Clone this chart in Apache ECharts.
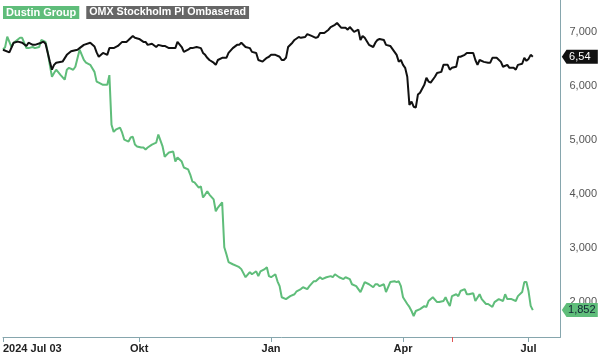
<!DOCTYPE html>
<html>
<head>
<meta charset="utf-8">
<script src="https://cdn.jsdelivr.net/npm/echarts@6/dist/echarts.min.js"></script>
<style>html,body{margin:0;padding:0;background:#fff}#c{width:600px;height:354px}</style>
</head>
<body>
<div id="c"></div>
<script>
// ---- data ----
var startDate = '2024-07-03';
var endDate = '2025-07-22';
var holidays = ['2024-12-24','2024-12-25','2024-12-26','2024-12-31','2025-01-01','2025-01-06','2025-04-18','2025-04-21','2025-05-01','2025-05-29','2025-06-06','2025-06-20'];
var tickDates = ['2024-07-03','2024-10-01','2025-01-02','2025-04-01','2025-07-01'];
var tickLabels = ['2024 Jul 03','Okt','Jan','Apr','Jul'];
var markerDate = '2025-05-07';
var seriesNames = ['Dustin Group','OMX Stockholm PI Ombaserad'];
var endLabels = ['1,852','6,54'];

// OMX Stockholm PI (rebased) — trading-day index from start, value
var omxIdx = [0,3,5,7,9,11,12,14,15,18,19,20,22,23,24,25,28,30,32,35,36,38,41,43,44,45,47,49,50,52,54,56,58,59,61,62,64,66,67,68,70,72,73,75,76,78,80,81,82,84,85,87,88,89,91,93,94,95,96,97,99,100,101,103,105,106,108,110,111,112,114,116,117,119,120,122,124,125,126,128,130,131,132,133,134,136,137,139,140,142,143,145,147,148,149,151,153,154,156,157,159,161,162,163,165,167,168,169,170,172,174,175,176,177,179,180,182,184,185,186,187,188,189,190,191,192,193,194,195,196,198,199,200,201,203,204,206,207,209,210,211,213,214,215,217,218,220,221,222,223,224,226,228,229,230,232,234,235,237,238,240,241,242,244,245,246,247,248,249];
var omxVal = [6670,6620,6800,6820,6800,6740,6800,6760,6760,6800,6820,6780,6450,6300,6390,6430,6450,6575,6640,6670,6700,6760,6800,6730,6620,6540,6610,6575,6700,6700,6740,6815,6815,6850,6925,6890,6870,6815,6815,6760,6780,6720,6760,6740,6740,6700,6700,6700,6815,6720,6630,6670,6700,6700,6720,6700,6610,6575,6520,6480,6430,6390,6480,6520,6520,6610,6700,6760,6760,6800,6720,6700,6630,6610,6480,6450,6520,6540,6575,6575,6540,6480,6480,6520,6720,6800,6850,6905,6890,6905,6960,6925,6890,6905,6980,6980,7040,7090,7130,7165,7075,7075,7040,7090,7000,7040,6850,6925,6890,6760,6720,6800,6850,6870,6850,6760,6740,6630,6575,6450,6480,6390,6335,6170,5650,5710,5615,5600,5840,5875,6020,6150,6080,6060,6170,6240,6260,6390,6390,6300,6335,6355,6540,6540,6575,6610,6610,6610,6480,6390,6480,6445,6430,6430,6520,6520,6445,6355,6390,6335,6335,6300,6390,6410,6520,6465,6500,6575,6540];

// Dustin Group — trading-day index from start, value
var dustinIdx = [0,1,2,3,4,5,8,9,11,12,14,15,17,18,20,21,22,23,24,25,27,29,30,31,33,34,36,38,39,41,43,44,45,47,49,50,51,52,53,55,56,57,59,60,61,62,63,65,66,67,68,70,72,73,75,76,78,80,81,82,84,85,87,88,89,90,92,93,94,95,96,97,99,100,101,103,104,105,106,108,110,111,112,114,116,117,119,120,121,123,124,125,126,128,129,130,131,133,135,137,138,140,141,143,144,146,147,149,150,152,154,155,156,158,160,161,163,164,166,168,169,170,172,174,175,176,177,179,180,182,184,185,186,187,188,190,191,192,193,194,196,198,199,200,202,204,205,207,208,209,210,211,213,214,215,217,218,219,221,222,224,225,227,228,230,231,233,235,236,237,239,241,242,244,245,246,247,248,249];
var dustinVal = [6670,6720,6910,6815,6720,6800,6890,6890,6700,6700,6720,6700,6720,6850,6815,6630,6390,6170,6240,6300,6205,6115,6300,6335,6300,6355,6670,6480,6430,6390,6260,6080,6060,6020,6020,6200,5280,5150,5190,5230,5135,5005,4970,5045,5060,4915,4880,4860,4860,4825,4860,4915,4950,5100,4880,4690,4770,4785,4600,4675,4600,4490,4455,4360,4230,4215,4120,4140,3935,3990,4050,3990,3900,3680,3750,3845,3015,2885,2740,2700,2665,2645,2610,2460,2555,2515,2570,2480,2570,2610,2645,2480,2460,2515,2385,2295,2090,2055,2110,2145,2200,2240,2275,2240,2295,2385,2385,2460,2425,2460,2480,2460,2515,2460,2425,2460,2425,2330,2295,2185,2275,2370,2330,2275,2330,2330,2295,2330,2185,2370,2385,2370,2385,2295,2090,1965,1910,1835,1740,1835,1870,1925,1910,2020,2090,2000,2000,2020,2090,2000,1925,2110,2145,2110,2205,2240,2145,2145,2165,2020,2145,2055,1965,1965,1910,2000,2055,2020,2145,2055,2055,2020,2110,2185,2370,2370,2200,1930,1852];

// ---- trading-day categories ----
function buildDays(){
  var out=[]; var d=new Date(startDate+'T12:00:00Z'); var e=new Date(endDate+'T12:00:00Z');
  while(d<=e){
    var wd=d.getUTCDay(); var s=d.toISOString().slice(0,10);
    if(wd!==0&&wd!==6&&holidays.indexOf(s)<0) out.push(s);
    d=new Date(d.getTime()+86400000);
  }
  return out;
}
var days = buildDays();
var tickIdx = tickDates.map(function(t){return days.indexOf(t);});
var markerIdx = days.indexOf(markerDate);

var green = '#5fbd7a';
var axisCol = '#86a6ad';
var font = 'Liberation Sans, Arial, sans-serif';
function zip(a,b){return a.map(function(v,i){return [v,b[i]];});}

var dustinData = zip(dustinIdx, dustinVal);
var omxData = zip(omxIdx, omxVal);
var tagPath = 'path://M0,7 L6,0 L46,0 L46,14 L6,14 Z';

var chart = echarts.init(document.getElementById('c'), null, {renderer:'canvas'});
chart.setOption({
  animation:false,
  backgroundColor:'#fff',
  legend:{
    left:-7, top:1, itemGap:2, itemWidth:0, itemHeight:0, icon:'none', selectedMode:false,
    data:[
      {name:seriesNames[0], textStyle:{backgroundColor:green, color:'#fff', fontWeight:'bold', fontSize:11, fontFamily:font, padding:[1,3,1,3]}},
      {name:seriesNames[1], textStyle:{backgroundColor:'#666', color:'#fff', fontWeight:'bold', fontSize:10.7, fontFamily:font, padding:[1,3,1,3]}}
    ]
  },
  grid:{left:0, right:34, top:0, bottom:16, containLabel:false},
  xAxis:[{
    type:'category', data:days, boundaryGap:false, position:'bottom',
    axisLine:{show:true, lineStyle:{color:axisCol, width:1}},
    axisTick:{show:true, length:5, lineStyle:{color:axisCol}, interval:function(i){return tickIdx.indexOf(i)>=0;}},
    axisLabel:{
      interval:function(i){return tickIdx.indexOf(i)>=0;},
      formatter:function(v){var k=tickDates.indexOf(v); return k>=0?tickLabels[k]:'';},
      alignMinLabel:'left',
      color:'#222', fontWeight:'bold', fontSize:11, margin:6,
      fontFamily:font
    },
    splitLine:{show:false}
  },{
    type:'category', data:days, boundaryGap:false, position:'bottom', gridIndex:0,
    axisLine:{show:false},
    axisTick:{show:true, length:5, lineStyle:{color:'#e05555'}, interval:function(i){return i===markerIdx;}},
    axisLabel:{show:false}, splitLine:{show:false}
  }],
  yAxis:{
    type:'value', position:'right', min:1354, max:7590, splitNumber:5,
    axisLine:{show:true, lineStyle:{color:axisCol, width:1}},
    axisTick:{show:false}, splitLine:{show:false},
    axisLabel:{
      showMinLabel:false, showMaxLabel:false, margin:9,
      color:'#555', fontSize:11, fontFamily:font,
      formatter:function(v){return (v%1000===0)?v.toLocaleString('en-US'):'';}
    }
  },
  series:[
    {name:seriesNames[0], type:'line', data:dustinData, showSymbol:false, symbol:'none',
     lineStyle:{color:green, width:2}, itemStyle:{color:green},
     markPoint:{symbol:tagPath, symbolSize:[36,14], symbolOffset:[47,0], silent:true,
       itemStyle:{color:green},
       label:{show:true, position:'inside', offset:[2,0], formatter:endLabels[0], color:'#123', fontSize:11, fontFamily:font},
       data:[{coord:[dustinIdx[dustinIdx.length-1], dustinVal[dustinVal.length-1]]}]}
    },
    {name:seriesNames[1], type:'line', data:omxData, showSymbol:false, symbol:'none',
     lineStyle:{color:'#111', width:2}, itemStyle:{color:'#666'},
     markPoint:{symbol:tagPath, symbolSize:[36,14], symbolOffset:[47,0], silent:true,
       itemStyle:{color:'#111'},
       label:{show:true, position:'inside', offset:[0,0], formatter:endLabels[1], color:'#fff', fontSize:11, fontFamily:font},
       data:[{coord:[omxIdx[omxIdx.length-1], omxVal[omxVal.length-1]]}]}
    }
  ]
});
</script>
</body>
</html>
